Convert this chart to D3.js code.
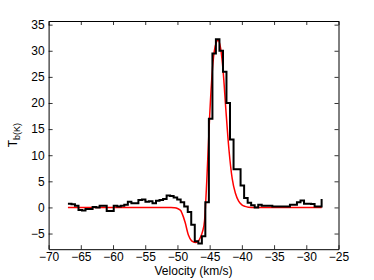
<!DOCTYPE html>
<html>
<head>
<meta charset="utf-8">
<script src="https://cdn.jsdelivr.net/npm/d3@7"></script>
<style>
  html, body { margin: 0; padding: 0; background: #fff; }
  svg { display: block; }
  text { font-family: "Liberation Sans", Arial, sans-serif; }
</style>
</head>
<body>
<svg id="chart" width="374" height="280"></svg>
<script>
// ---- data ----
const velocity = [-67.00,-66.45,-65.91,-65.36,-64.81,-64.27,-63.72,-63.17,-62.62,-62.08,
  -61.53,-60.98,-60.44,-59.89,-59.34,-58.80,-58.25,-57.70,-57.15,-56.61,
  -56.06,-55.51,-54.97,-54.42,-53.87,-53.33,-52.78,-52.23,-51.68,-51.14,
  -50.59,-50.04,-49.50,-48.95,-48.40,-47.86,-47.31,-46.76,-46.21,-45.67,
  -45.12,-44.57,-44.03,-43.48,-42.93,-42.39,-41.84,-41.29,-40.74,-40.20,
  -39.65,-39.10,-38.56,-38.01,-37.46,-36.92,-36.37,-35.82,-35.27,-34.73,
  -34.18,-33.63,-33.09,-32.54,-31.99,-31.45,-30.90,-30.35,-29.80,-29.26,
  -28.71,-28.16,-27.62];
const tbObserved = [0.7,0.6,0.3,-0.5,-0.6,-0.3,-0.3,0.1,0.0,0.3,
  0.3,-0.7,-0.7,0.3,0.2,0.3,0.5,1.1,0.8,0.8,
  1.4,1.5,1.1,1.2,0.8,1.3,1.4,1.6,2.3,2.2,
  1.9,1.5,1.0,0.2,-0.9,-3.3,-6.5,-6.9,-5.5,1.0,
  17.0,29.5,32.2,30.0,26.0,20.0,13.0,7.3,7.3,4.2,
  1.8,0.9,0.4,0.0,0.5,0.3,0.3,0.3,0.2,0.2,
  0.2,0.2,0.2,0.5,0.5,1.0,1.35,0.7,0.7,0.65,
  0.2,0.2,1.6];
const fitVelocity = [-67,-51,-50.5,-50,-49.5,-49.3,-48.8,-48.3,-47.8,-47.2,-46.8,-46.5,-46.1,-45.8,
  -45.45,-45.0,-44.5,-44.0,-43.7,-43.3,-42.9,-42.5,-42.0,-41.5,-41.0,-40.5,-40.0,-39.5,-39.0,-38.0,-27.6];
const tbFit = [0,0,-0.05,-0.2,-0.6,-1.1,-2.9,-5.3,-6.4,-6.7,-6.5,-5.9,-4.6,-2.6,
  5,17.5,27.5,31.5,32,30.5,26,19,11,5.5,2.7,1.2,0.5,0.2,0.05,0,0];
const xTicks = [-70,-65,-60,-55,-50,-45,-40,-35,-30,-25];
const yTicks = [-5,0,5,10,15,20,25,30,35];
const xDomain = [-70,-25];
const yDomain = [-8,35.7];

// ---- layout ----
const W = 374, H = 280;
const m = {left: 48.6, right: W - 338.5, top: 21, bottom: H - 249.2};
const svg = d3.select("#chart");
const x = d3.scaleLinear().domain(xDomain).range([m.left, W - m.right]);
const y = d3.scaleLinear().domain(yDomain).range([H - m.bottom, m.top]);
const fmt = d3.format("");
const tl = 4;
const fs = 12;

const g = svg.append("g");

svg.append("clipPath").attr("id","clip").append("rect")
  .attr("x", x(xDomain[0])).attr("y", y(yDomain[1]))
  .attr("width", x(xDomain[1]) - x(xDomain[0])).attr("height", y(yDomain[0]) - y(yDomain[1]));

const fitData = fitVelocity.map((v,i) => [v, tbFit[i]]);
const obsData = velocity.map((v,i) => [v, tbObserved[i]]);

g.append("path").datum(fitData)
  .attr("clip-path","url(#clip)")
  .attr("fill","none").attr("stroke","#ff0000").attr("stroke-width",1.5)
  .attr("d", d3.line().x(d=>x(d[0])).y(d=>y(d[1])).curve(d3.curveMonotoneX));

g.append("path").datum(obsData)
  .attr("clip-path","url(#clip)")
  .attr("fill","none").attr("stroke","#000").attr("stroke-width",2)
  .attr("stroke-linejoin","miter")
  .attr("d", d3.line().x(d=>x(d[0])).y(d=>y(d[1])).curve(d3.curveStepAfter));

// axes
const axB = d3.axisBottom(x).tickValues(xTicks).tickFormat(fmt).tickSizeInner(-tl).tickSizeOuter(0).tickPadding(3);
const axT = d3.axisTop(x).tickValues(xTicks).tickFormat("").tickSizeInner(-tl).tickSizeOuter(0);
const axL = d3.axisLeft(y).tickValues(yTicks).tickFormat(fmt).tickSizeInner(-tl).tickSizeOuter(0).tickPadding(4);
const axR = d3.axisRight(y).tickValues(yTicks).tickFormat("").tickSizeInner(-tl).tickSizeOuter(0);

function style(sel){
  sel.selectAll("path.domain").attr("stroke","#000").attr("stroke-width",1);
  sel.selectAll(".tick line").attr("stroke","#000").attr("stroke-width",0.8);
  sel.selectAll(".tick text").attr("fill","#000").attr("font-size",fs)
     .attr("font-family",'"Liberation Sans", Arial, sans-serif');
}
style(svg.append("g").attr("transform",`translate(0,${H-m.bottom})`).call(axB));
style(svg.append("g").attr("transform",`translate(0,${m.top})`).call(axT));
style(svg.append("g").attr("transform",`translate(${m.left},0)`).call(axL));
style(svg.append("g").attr("transform",`translate(${W-m.right},0)`).call(axR));

// labels
svg.append("text").attr("x", (m.left + W - m.right)/2).attr("y", 275)
  .attr("text-anchor","middle").attr("font-size",fs).attr("fill","#000")
  .text("Velocity (km/s)");

const yl = svg.append("text")
  .attr("transform", `translate(17,${(m.top + H - m.bottom)/2}) rotate(-90)`)
  .attr("text-anchor","middle").attr("font-size",fs).attr("fill","#000");
yl.append("tspan").text("T");
yl.append("tspan").attr("font-size",9).attr("dy",3).text("b(K)");
</script>
</body>
</html>
